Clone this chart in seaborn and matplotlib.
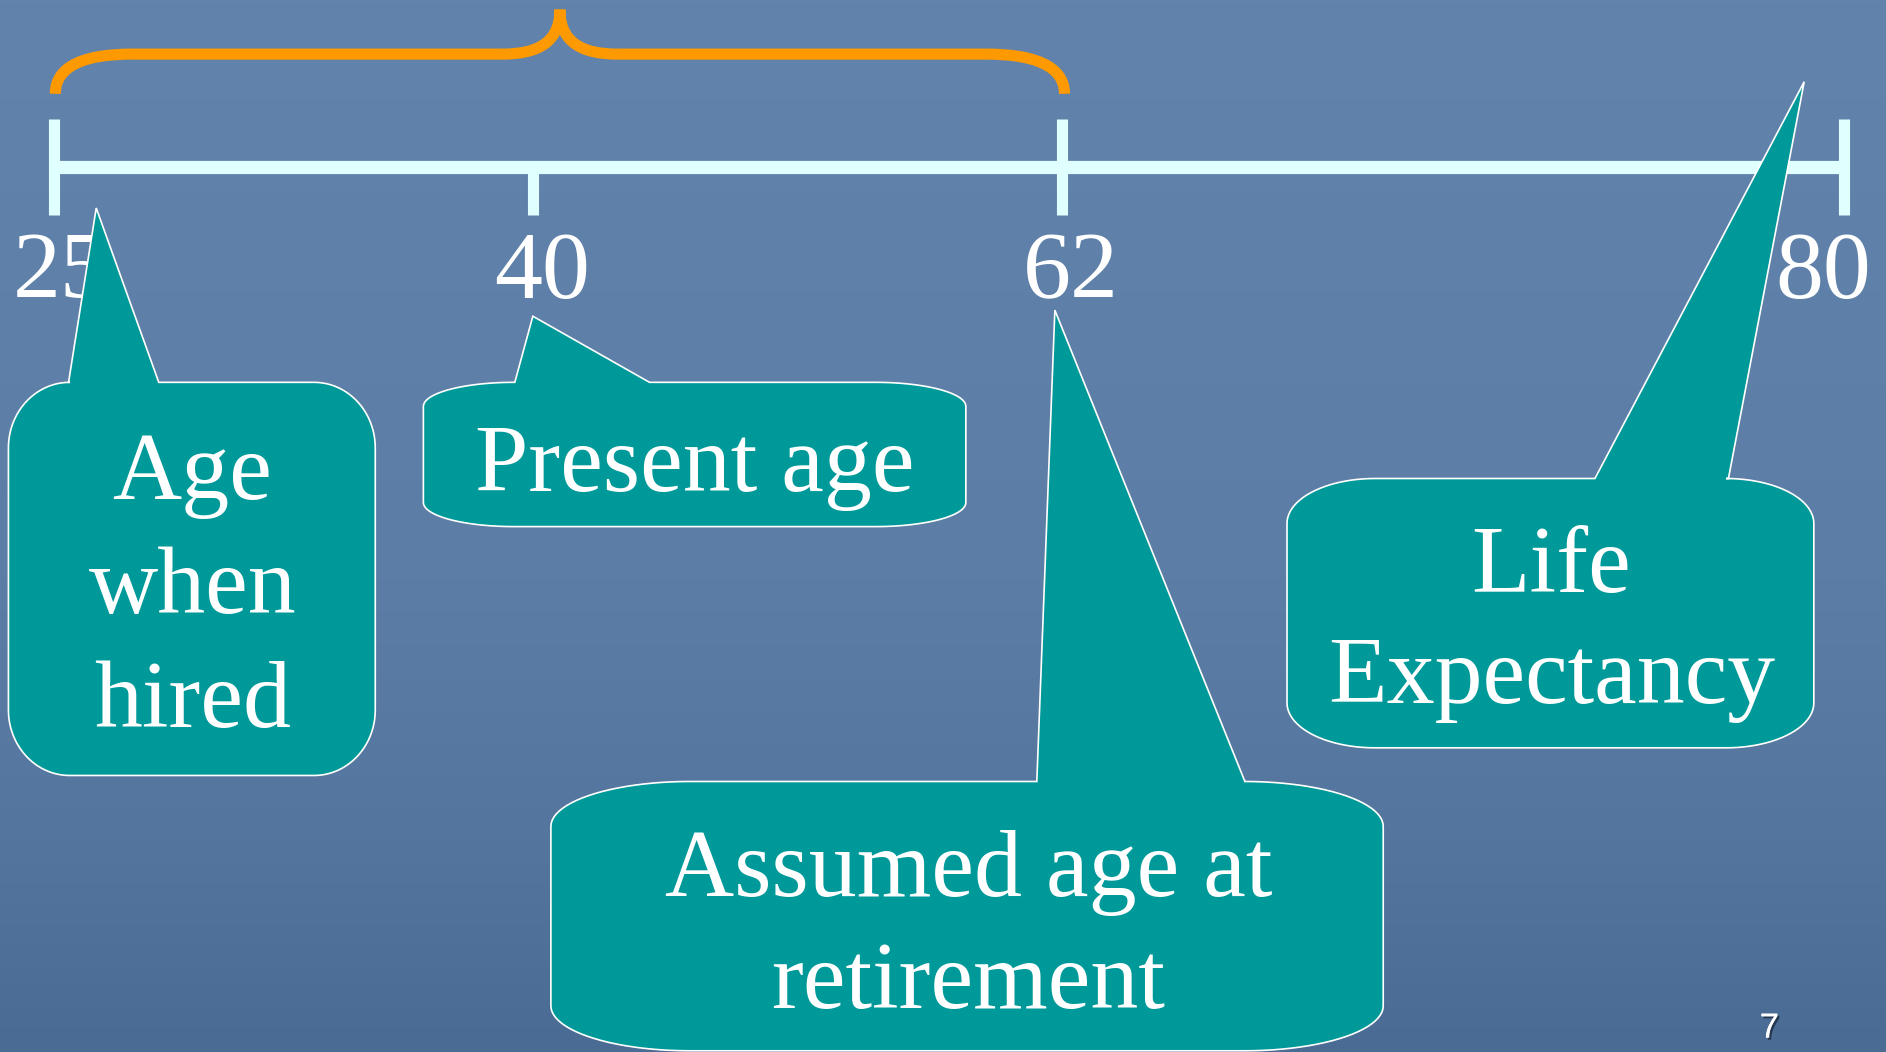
import numpy as np
import pandas as pd
import matplotlib
matplotlib.use("Agg")
import matplotlib.pyplot as plt
import seaborn as sns
from matplotlib.path import Path
from matplotlib.patches import PathPatch, Polygon
from matplotlib.colors import LinearSegmentedColormap
import matplotlib.patheffects as pe

# --- content ---
AGES = [25, 40, 62, 80]
AGE_LABELS = ["25", "40", "62", "80"]
CALLOUT_LINES = [
    ["Age", "when", "hired"],
    ["Present age"],
    ["Life", "Expectancy"],
    ["Assumed age at", "retirement"],
]
PAGE_NUMBER = "7"

# --- layout (slide units, 1568 x 875, y down) ---
W, H = 1568, 875
TICK_X = [45, 443, 883, 1533]          # timeline is schematic, not to scale
TICK_UP = [True, False, True, True]
LINE_Y = 139
LABEL_X = [50, 451, 890, 1516]
LABEL_BASE = 248

# box (x0, y0, x1, y1), pointer base (bl, br), tip (tx, ty), text cx, baselines
CALLOUT_LAYOUT = [
    dict(box=(7, 318, 312, 645), base=(57, 132), tip=(80, 173), cx=160, bl=[415, 510, 605]),
    dict(box=(352, 318, 803, 438), base=(428, 540), tip=(443, 263), cx=578, bl=[408]),
    dict(box=(1070, 398, 1508, 622), base=(1326, 1437), tip=(1500, 68), cx=1290, bl=[492, 585]),
    dict(box=(458, 650, 1150, 874), base=(862, 1035), tip=(877, 258), cx=805, bl=[745, 838]),
]

TEAL = "#009999"
LINE_COL = "#E0FFFF"
ORANGE = "#FF9900"

sns.set_theme(style="white")
plt.rcParams["font.family"] = ["Liberation Serif", "DejaVu Serif"]


def ellipse_arc(cx, cy, rx, ry, a0, a1, n=24):
    t = np.linspace(np.radians(a0), np.radians(a1), n)
    return list(zip(cx + rx * np.cos(t), cy + ry * np.sin(t)))


def callout_points(box, base, tip):
    x0, y0, x1, y1 = box
    rx, ry = (x1 - x0) / 6, (y1 - y0) / 6
    pts = [(base[0], y0), tip, (base[1], y0)]
    # top-right corner (y down: angles go -90 -> 0)
    pts += ellipse_arc(x1 - rx, y0 + ry, rx, ry, -90, 0)
    pts += ellipse_arc(x1 - rx, y1 - ry, rx, ry, 0, 90)
    pts += ellipse_arc(x0 + rx, y1 - ry, rx, ry, 90, 180)
    pts += ellipse_arc(x0 + rx, y0 + ry, rx, ry, 180, 270)
    return pts


def main():
    fig = plt.figure(figsize=(18.86, 10.52), dpi=100)
    ax = fig.add_axes([0, 0, 1, 1])
    ax.set_xlim(0, W)
    ax.set_ylim(H, 0)
    ax.axis("off")

    # background gradient
    cmap = LinearSegmentedColormap.from_list(
        "bg", [(0, "#6284AC"), (0.55, "#5C7DA5"), (0.8, "#54759D"), (1, "#4A6B93")])
    grad = np.linspace(0, 1, 256).reshape(-1, 1)
    ax.imshow(grad, cmap=cmap, extent=(0, W, H, 0), aspect="auto", zorder=0)

    # timeline
    pos = dict(zip(AGES, TICK_X))
    line_df = pd.DataFrame({"x": [pos[AGES[0]], pos[AGES[-1]]], "y": [LINE_Y, LINE_Y]})
    sns.lineplot(data=line_df, x="x", y="y", ax=ax, color=LINE_COL, lw=9.5,
                 solid_capstyle="butt", zorder=2)
    for age, up in zip(AGES, TICK_UP):
        top = 99 if up else LINE_Y
        ax.plot([pos[age], pos[age]], [top, 179], color=LINE_COL, lw=8,
                solid_capstyle="butt", zorder=2)
    for lab, lx in zip(AGE_LABELS, LABEL_X):
        ax.text(lx, LABEL_BASE, lab, color="white", fontsize=69,
                ha="center", va="baseline", zorder=2)

    # brace over 25..62
    xl, xr = pos[AGES[0]] + 1, pos[AGES[2]] + 2
    xm = (xl + xr) / 2
    verts = [(xl, 78), (xl, 55), (70, 45), (110, 45),
             (xm - 48, 45),
             (xm - 18, 45), (xm, 35), (xm, 8),
             (xm, 35), (xm + 18, 45), (xm + 48, 45),
             (xr - 65, 45),
             (xr - 25, 45), (xr, 55), (xr, 78)]
    codes = [Path.MOVETO, Path.CURVE4, Path.CURVE4, Path.CURVE4,
             Path.LINETO,
             Path.CURVE4, Path.CURVE4, Path.CURVE4,
             Path.CURVE4, Path.CURVE4, Path.CURVE4,
             Path.LINETO,
             Path.CURVE4, Path.CURVE4, Path.CURVE4]
    ax.add_patch(PathPatch(Path(verts, codes), fill=False, edgecolor=ORANGE,
                           lw=8, capstyle="butt", zorder=2))

    # callouts
    for lines, lay in zip(CALLOUT_LINES, CALLOUT_LAYOUT):
        pts = callout_points(lay["box"], lay["base"], lay["tip"])
        ax.add_patch(Polygon(pts, closed=True, facecolor=TEAL, edgecolor="white",
                             lw=1.2, joinstyle="miter", zorder=3))
        for txt, b in zip(lines, lay["bl"]):
            ax.text(lay["cx"], b, txt, color="white", fontsize=69,
                    ha="center", va="baseline", zorder=4)

    # page number
    ax.text(1471, 863, PAGE_NUMBER, color="white", fontsize=25,
            family=["Liberation Sans", "DejaVu Sans"], ha="center", va="baseline",
            zorder=4, path_effects=[pe.withSimplePatchShadow(offset=(1.5, -1.5),
                                                             shadow_rgbFace="#1a2a40", alpha=0.8),
                                    pe.Normal()])

    fig.savefig("out.png", dpi=100)


if __name__ == '__main__':
    main()
